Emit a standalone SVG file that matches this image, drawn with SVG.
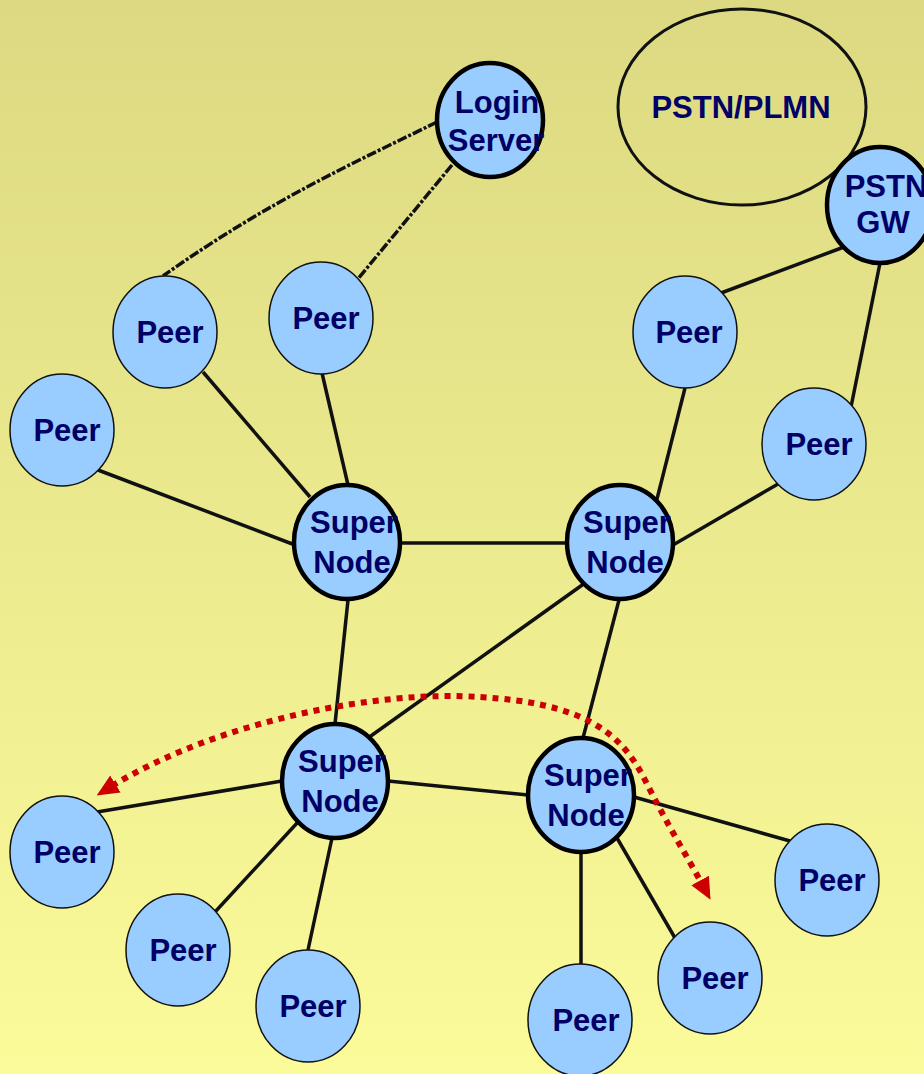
<svg xmlns="http://www.w3.org/2000/svg" width="924" height="1074" viewBox="0 0 924 1074">
<defs>
<linearGradient id="bg" x1="0" y1="0" x2="0" y2="1">
<stop offset="0" stop-color="#dcd982"/>
<stop offset="1" stop-color="#fbfb9a"/>
</linearGradient>
<marker id="ah" viewBox="0 0 22 22" refX="4" refY="11" markerWidth="22" markerHeight="22" markerUnits="userSpaceOnUse" orient="auto-start-reverse">
<path d="M0,1 L22,11 L0,21 Z" fill="#cc0000"/>
</marker>
<style>
.peer{fill:#99ccff;stroke:#111;stroke-width:1.5}
.sn{fill:#99ccff;stroke:#000;stroke-width:4.5}
.t{font-family:"Liberation Sans",Arial,sans-serif;font-weight:bold;font-size:31px;fill:#000066;text-anchor:middle}
.c line{stroke:#111;stroke-width:3.5}
.dash{stroke:#111;stroke-width:3.5;fill:none;stroke-dasharray:10 2 3 2}
</style>
</defs>
<rect width="924" height="1074" fill="url(#bg)"/>
<g id="connectors" class="c">
<path class="dash" d="M437,122 C360,160 270,200 163,276"/>
<path class="dash" d="M452,165 L357,280"/>
<line x1="203" y1="372" x2="310" y2="497"/>
<line x1="322" y1="373" x2="348" y2="485"/>
<line x1="98" y1="470" x2="295" y2="545"/>
<line x1="400" y1="543" x2="567" y2="543"/>
<line x1="685" y1="388" x2="656" y2="503"/>
<line x1="778" y1="484" x2="673" y2="545"/>
<line x1="844" y1="247" x2="721" y2="293"/>
<line x1="880" y1="263" x2="851" y2="407"/>
<line x1="348" y1="600" x2="335" y2="724"/>
<line x1="585" y1="583" x2="368" y2="738"/>
<line x1="619" y1="600" x2="583" y2="738"/>
<line x1="388" y1="781" x2="528" y2="795"/>
<line x1="282" y1="781" x2="97" y2="812"/>
<line x1="298" y1="822" x2="215" y2="912"/>
<line x1="332" y1="838" x2="308" y2="950"/>
<line x1="581" y1="852" x2="581" y2="964"/>
<line x1="617" y1="838" x2="675" y2="938"/>
<line x1="634" y1="797" x2="790" y2="841"/>
</g>
<g id="pstn-plmn">
<ellipse cx="742" cy="107" rx="124" ry="98" fill="none" stroke="#111" stroke-width="3"/>
<text class="t" x="741" y="118">PSTN/PLMN</text>
</g>
<g id="login-server">
<ellipse class="sn" cx="490" cy="120" rx="53" ry="57"/>
<text class="t" x="497" y="113">Login</text>
<text class="t" x="496" y="151">Server</text>
</g>
<g id="pstn-gw">
<ellipse class="sn" cx="880" cy="205" rx="53" ry="58"/>
<text class="t" x="886" y="197">PSTN</text>
<text class="t" x="883" y="233">GW</text>
</g>
<g id="peer-a"><ellipse class="peer" cx="165" cy="332" rx="52" ry="56"/><text class="t" x="170" y="343">Peer</text></g>
<g id="peer-b"><ellipse class="peer" cx="321" cy="318" rx="52" ry="56"/><text class="t" x="326" y="329">Peer</text></g>
<g id="peer-c"><ellipse class="peer" cx="62" cy="430" rx="52" ry="56"/><text class="t" x="67" y="441">Peer</text></g>
<g id="peer-d"><ellipse class="peer" cx="685" cy="332" rx="52" ry="56"/><text class="t" x="689" y="343">Peer</text></g>
<g id="peer-e"><ellipse class="peer" cx="814" cy="444" rx="52" ry="56"/><text class="t" x="819" y="455">Peer</text></g>
<g id="peer-f"><ellipse class="peer" cx="62" cy="852" rx="52" ry="56"/><text class="t" x="67" y="863">Peer</text></g>
<g id="peer-g"><ellipse class="peer" cx="178" cy="950" rx="52" ry="56"/><text class="t" x="183" y="961">Peer</text></g>
<g id="peer-h"><ellipse class="peer" cx="308" cy="1006" rx="52" ry="56"/><text class="t" x="313" y="1017">Peer</text></g>
<g id="peer-i"><ellipse class="peer" cx="580" cy="1020" rx="52" ry="56"/><text class="t" x="586" y="1031">Peer</text></g>
<g id="peer-j"><ellipse class="peer" cx="710" cy="978" rx="52" ry="56"/><text class="t" x="715" y="989">Peer</text></g>
<g id="peer-k"><ellipse class="peer" cx="827" cy="880" rx="52" ry="56"/><text class="t" x="832" y="891">Peer</text></g>
<g id="super-node-1"><ellipse class="sn" cx="347" cy="542" rx="53" ry="57"/><text class="t" x="354" y="533">Super</text><text class="t" x="352" y="573">Node</text></g>
<g id="super-node-2"><ellipse class="sn" cx="620" cy="542" rx="53" ry="57"/><text class="t" x="627" y="533">Super</text><text class="t" x="625" y="573">Node</text></g>
<g id="super-node-3"><ellipse class="sn" cx="335" cy="781" rx="53" ry="57"/><text class="t" x="342" y="772">Super</text><text class="t" x="340" y="812">Node</text></g>
<g id="super-node-4"><ellipse class="sn" cx="581" cy="795" rx="53" ry="57"/><text class="t" x="588" y="786">Super</text><text class="t" x="586" y="826">Node</text></g>
<g id="call-path">
<path d="M112,786 C220,720 380,690 480,697 C580,703 620,730 645,780 C668,826 688,858 702,884" fill="none" stroke="#cc0000" stroke-width="6" stroke-dasharray="6 6" marker-start="url(#ah)" marker-end="url(#ah)"/>
</g>
</svg>
